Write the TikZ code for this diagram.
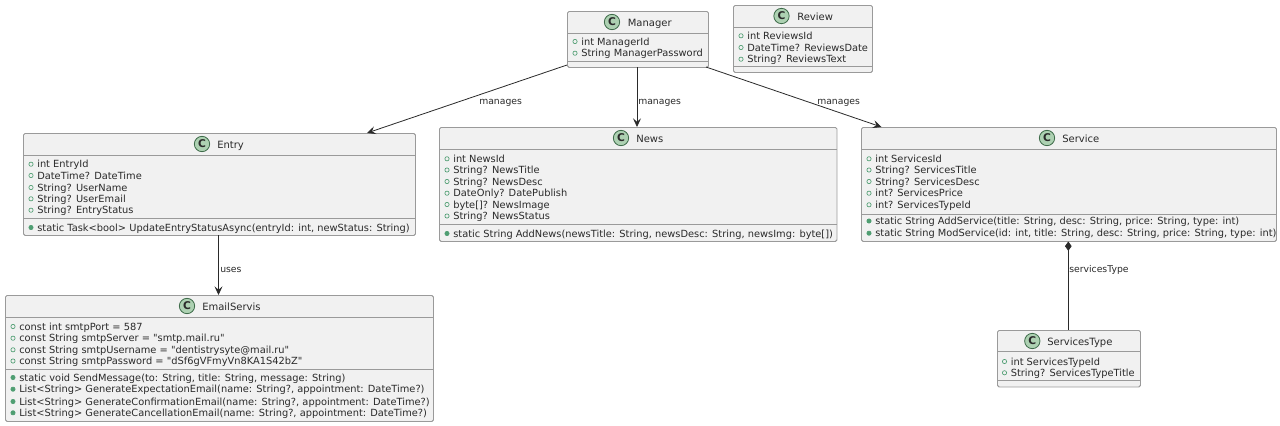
\documentclass[tikz,border=0pt]{standalone}
\usepackage{fontspec}
\setmainfont{DejaVu Sans}[Ligatures=TeXOff]
\usetikzlibrary{arrows.meta}
\definecolor{boxfill}{HTML}{F1F1F1}
\definecolor{boxline}{HTML}{9A9A9A}
\definecolor{spotfill}{HTML}{ADD1B2}
\definecolor{spotline}{HTML}{3E6B4A}
\definecolor{vis}{HTML}{4F9E72}
\definecolor{ink}{HTML}{2A2A2A}
\newcommand{\memsize}{\fontsize{7.38pt}{9pt}\selectfont}
\newcommand{\headsize}{\fontsize{7.5pt}{9pt}\selectfont}
\tikzset{
  x=0.75pt,y=-0.75pt,
  classbox/.style={draw=boxline,fill=boxfill,line width=0.7pt,rounded corners=1.2pt,inner sep=0pt},
  sepline/.style={draw=boxline,line width=0.7pt},
  spot/.style={circle,draw=spotline,fill=spotfill,line width=0.6pt,minimum size=11.5pt,inner sep=0pt,font=\fontsize{8pt}{9pt}\selectfont\bfseries,text=ink},
  title/.style={anchor=base west,inner sep=0pt,font=\headsize,text=ink},
  member/.style={anchor=base west,inner sep=0pt,font=\memsize,text=ink},
  lbl/.style={anchor=base west,inner sep=0pt,font=\fontsize{6.95pt}{9pt}\selectfont,text=ink},
  flow/.style={draw=ink,line width=0.6pt,-{Stealth[length=6.5pt,width=6pt,inset=2.6pt]}},
  vfield/.style={circle,draw=vis,line width=0.5pt,fill=none,minimum size=3.2pt,inner sep=0pt},
  vmethod/.style={circle,draw=vis,fill=vis,line width=0.5pt,minimum size=3.2pt,inner sep=0pt},
}
% #1 name, #2 left, #3 top, #4 right, #5 bottom, #6 head sep y, #7 member sep y
\newcommand{\umlbox}[7]{%
  \node[classbox,minimum width=#4*0.75pt-#2*0.75pt,minimum height=#5*0.75pt-#3*0.75pt,anchor=north west] (#1) at (#2,#3) {};
  \draw[sepline] (#2,#6) -- (#4,#6);
  \draw[sepline] (#2,#7) -- (#4,#7);
}
% #1 spot x, #2 centre y, #3 title x, #4 title
\newcommand{\umlhead}[4]{%
  \node[spot] at (#1,#2) {C};
  \node[title] at (#3,#2+4) {#4};
}
% #1 x of marker, #2 baseline y, #3 text
\newcommand{\fieldm}[3]{%
  \node[vfield] at (#1,#2-3.5) {};
  \node[member] at (#1+6,#2) {#3};
}
\newcommand{\methm}[3]{%
  \node[vmethod] at (#1,#2-3.5) {};
  \node[member] at (#1+6,#2) {#3};
}
\begin{document}
\begin{tikzpicture}
\useasboundingbox (0,0) rectangle (1280,425);
\fill[white] (0,0) rectangle (1280,425);

% Manager
\umlbox{manager}{567}{11}{708}{67}{33.3}{61.5}
\umlhead{612}{22}{627.5}{Manager}
\fieldm{575}{45}{int ManagerId}
\fieldm{575}{56.7}{String ManagerPassword}

% Review
\umlbox{review}{733}{5}{872}{72}{27.3}{66.5}
\umlhead{781.5}{16}{797}{Review}
\fieldm{741}{39.3}{int ReviewsId}
\fieldm{741}{51}{DateTime? ReviewsDate}
\fieldm{741}{62.7}{String? ReviewsText}

% Entry
\umlbox{entry}{23}{133}{415}{235}{155.7}{218.3}
\umlhead{202}{144}{217}{Entry}
\fieldm{31}{167.7}{int EntryId}
\fieldm{31}{179}{DateTime? DateTime}
\fieldm{31}{191}{String? UserName}
\fieldm{31}{202.3}{String? UserEmail}
\fieldm{31}{213.7}{String? EntryStatus}
\methm{31}{231}{static Task<bool> UpdateEntryStatusAsync(entryId: int, newStatus: String)}

% News
\umlbox{news}{439}{127}{836.5}{241}{149.5}{224}
\umlhead{621}{138}{636}{News}
\fieldm{447}{162.3}{int NewsId}
\fieldm{447}{173.5}{String? NewsTitle}
\fieldm{447}{185}{String? NewsDesc}
\fieldm{447}{196.7}{DateOnly? DatePublish}
\fieldm{447}{208}{byte[]? NewsImage}
\fieldm{447}{219.5}{String? NewsStatus}
\methm{447}{237}{static String AddNews(newsTitle: String, newsDesc: String, newsImg: byte[])}

% Service
\umlbox{service}{861}{127}{1276}{241}{149.5}{214}
\umlhead{1047}{138}{1062}{Service}
\fieldm{869}{162.3}{int ServicesId}
\fieldm{869}{173.5}{String? ServicesTitle}
\fieldm{869}{185}{String? ServicesDesc}
\fieldm{869}{196.7}{int? ServicesPrice}
\fieldm{869}{208.3}{int? ServicesTypeId}
\methm{869}{224.5}{static String AddService(title: String, desc: String, price: String, type: int)}
\methm{869}{236.7}{static String ModService(id: int, title: String, desc: String, price: String, type: int)}

% EmailServis
\umlbox{email}{5}{295}{433}{421}{317.5}{369.5}
\umlhead{187}{306}{202}{EmailServis}
\fieldm{13}{330}{const int smtpPort = 587}
\fieldm{13}{341.7}{const String smtpServer = "smtp.mail.ru"}
\fieldm{13}{353.3}{const String smtpUsername = "dentistrysyte@mail.ru"}
\fieldm{13}{364.5}{const String smtpPassword = "dSf6gVFmyVn8KA1S42bZ"}
\methm{13}{381}{static void SendMessage(to: String, title: String, message: String)}
\methm{13}{392.7}{List<String> GenerateExpectationEmail(name: String?, appointment: DateTime?)}
\methm{13}{405}{List<String> GenerateConfirmationEmail(name: String?, appointment: DateTime?)}
\methm{13}{416.3}{List<String> GenerateCancellationEmail(name: String?, appointment: DateTime?)}

% ServicesType
\umlbox{stype}{997}{330}{1140}{386.5}{351.7}{380.5}
\umlhead{1032.3}{341}{1047}{ServicesType}
\fieldm{1004.5}{365}{int ServicesTypeId}
\fieldm{1004.5}{376.3}{String? ServicesTypeTitle}

% Connectors
\coordinate (m1) at (567,65);
\coordinate (e1) at (367,133);
\coordinate (m2) at (637,67);
\coordinate (n2) at (637,127);
\coordinate (m3) at (706,67);
\coordinate (s3) at (881.5,127);
\coordinate (e4) at (218.5,235);
\coordinate (em4) at (218.5,295);
\coordinate (s5) at (1068.3,241.5);
\coordinate (t5) at (1068.3,330);
\draw[flow] (m1) -- (e1);
\draw[flow] (m2) -- (n2);
\draw[flow] (m3) -- (s3);
\draw[flow] (e4) -- (em4);
\draw[draw=ink,line width=0.6pt,{Diamond[length=7pt,width=5pt,fill=ink]}-] (s5) -- (t5);

\node[lbl] (l1) at (479,104) {manages};
\node[lbl] (l2) at (638,104) {manages};
\node[lbl] (l3) at (817,104) {manages};
\node[lbl] (l4) at (220,272) {uses};
\node[lbl] (l5) at (1069,272) {servicesType};
\end{tikzpicture}
\end{document}
